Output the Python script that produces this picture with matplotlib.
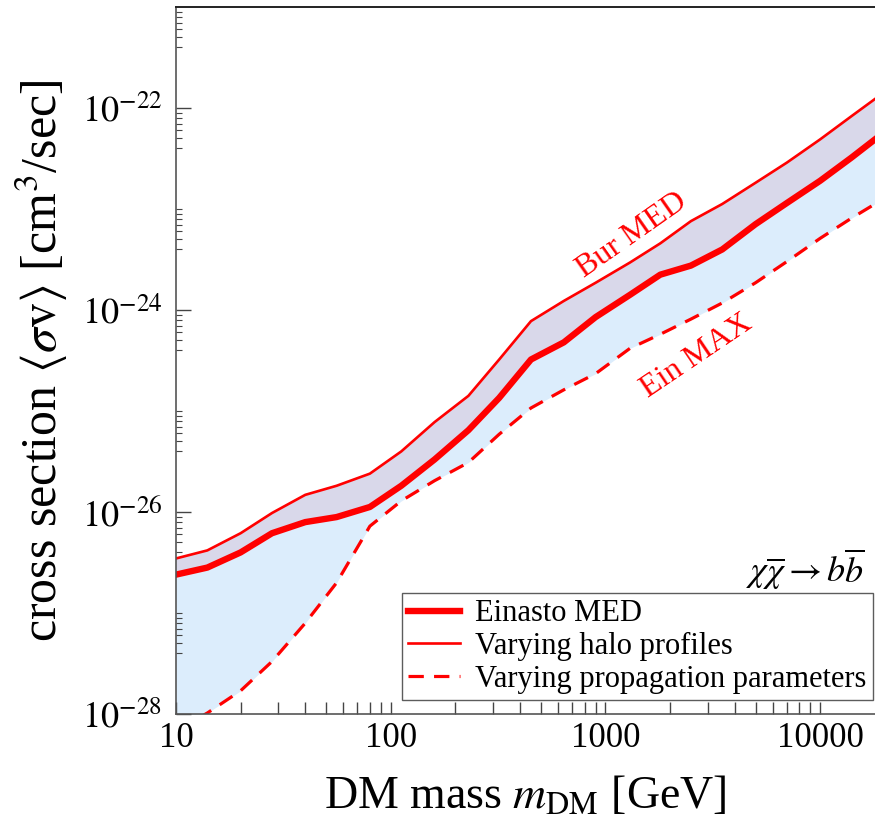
import numpy as np
import matplotlib
matplotlib.use("Agg")
import matplotlib.pyplot as plt
from matplotlib.ticker import LogLocator, FixedLocator, NullFormatter, FuncFormatter

plt.rcParams['font.family'] = ['Liberation Serif', 'DejaVu Serif']
plt.rcParams['mathtext.fontset'] = 'stix'

# DM mass grid [GeV]
mass = [10, 14, 20, 28, 40, 56, 80, 112, 160, 230, 320, 450, 640, 900,
        1300, 1800, 2500, 3500, 5000, 7000, 10000, 14000, 18000]

# log10 <sigma v> [cm^3/s]
ein_med = [-26.62, -26.55, -26.40, -26.21, -26.10, -26.05, -25.95, -25.74,
           -25.48, -25.19, -24.87, -24.49, -24.32, -24.07, -23.85, -23.65,
           -23.56, -23.40, -23.15, -22.94, -22.72, -22.49, -22.31]
bur_med = [-26.46, -26.38, -26.21, -26.01, -25.83, -25.74, -25.62, -25.40,
           -25.11, -24.85, -24.49, -24.11, -23.91, -23.73, -23.53, -23.34,
           -23.12, -22.95, -22.74, -22.54, -22.31, -22.08, -21.91]
ein_max = [-28.17, -27.99, -27.77, -27.48, -27.10, -26.70, -26.14, -25.89,
           -25.69, -25.51, -25.23, -24.97, -24.79, -24.63, -24.38, -24.24,
           -24.09, -23.93, -23.73, -23.52, -23.29, -23.09, -22.95]

m = np.array(mass, dtype=float)
y_med = 10.0 ** np.array(ein_med)
y_bur = 10.0 ** np.array(bur_med)
y_max = 10.0 ** np.array(ein_max)

fig = plt.figure(figsize=(8.75, 8.19), dpi=100)
ax = fig.add_axes([0.2011, 0.1282, 0.7989, 0.8632])

ax.fill_between(m, y_max, y_med, color='#dcedfc', lw=0)
ax.fill_between(m, y_med, y_bur, color='#d9d8ea', lw=0)

ax.plot(m, y_med, color='red', lw=4.6, label='Einasto MED')
ax.plot(m, y_bur, color='red', lw=1.9, label='Varying halo profiles')
ax.plot(m, y_max, color='red', lw=2.3, linestyle=(0, (4.8, 3.2)),
        label='Varying propagation parameters')

ax.set_xscale('log')
ax.set_yscale('log')
ax.set_xlim(10, 18000)
ax.set_ylim(1e-28, 1e-21)

# bottom ticks: all the same length
ax.xaxis.set_major_locator(LogLocator(base=10, numticks=10))
ax.xaxis.set_minor_locator(LogLocator(base=10, subs=np.arange(2, 10), numticks=20))
ax.xaxis.set_minor_formatter(NullFormatter())
ax.xaxis.set_major_formatter(FuncFormatter(lambda v, p: f"{int(round(v))}"))
ax.tick_params(axis='x', which='both', direction='in', length=9, width=1.0,
               color='#444444', labelsize=25, pad=6, top=False)

# left ticks: labels on even decades
ax.yaxis.set_major_locator(FixedLocator([1e-28, 1e-26, 1e-24, 1e-22]))
ax.yaxis.set_major_formatter(FuncFormatter(lambda v, p: r"$10^{%d}$" % int(round(np.log10(v)))))
minor_y = []
for d in range(-28, -21):
    for s in range(1, 10):
        if s == 1 and d % 2 == 0:
            continue
        if s in (2, 3):
            continue
        minor_y.append(s * 10.0 ** d)
ax.yaxis.set_minor_locator(FixedLocator(minor_y))
ax.yaxis.set_minor_formatter(NullFormatter())
ax.tick_params(axis='y', which='major', direction='in', length=11, width=1.0,
               color='#444444', labelsize=26, pad=10, right=False)
ax.tick_params(axis='y', which='minor', direction='in', length=4, width=0.8,
               color='#444444', right=False)

for side in ['left', 'bottom']:
    ax.spines[side].set_color('#555555')
    ax.spines[side].set_linewidth(1.2)
ax.spines['top'].set_color('#222222')
ax.spines['top'].set_linewidth(1.4)
ax.spines['right'].set_visible(False)

ax.set_xlabel(r'DM mass $m_{\mathrm{DM}}$ [GeV]', fontsize=33, labelpad=14)
ax.set_ylabel(r'cross section $\langle\sigma \mathrm{v}\rangle$ [cm$^3$/sec]',
              fontsize=36, labelpad=8)

ax.text(1330, 10 ** -23.26, 'Bur MED', color='red', fontsize=23,
        rotation=35, ha='center', va='center', rotation_mode='anchor')
ax.text(2670, 10 ** -24.46, 'Ein MAX', color='red', fontsize=23,
        rotation=34, ha='center', va='center', rotation_mode='anchor')
ax.text(0.985, 0.205, r'$\chi\overline{\chi}\rightarrow b\overline{b}$',
        transform=ax.transAxes, fontsize=26, ha='right', va='center')

leg = ax.legend(loc='upper right', bbox_to_anchor=(0.997, 0.171), fontsize=22,
                frameon=True, fancybox=False, borderaxespad=0, handlelength=1.7,
                handletextpad=0.5, labelspacing=0.12, borderpad=0.2)
leg.get_frame().set_edgecolor('#333333')
leg.get_frame().set_linewidth(1.0)

fig.savefig('out.png', dpi=100)
